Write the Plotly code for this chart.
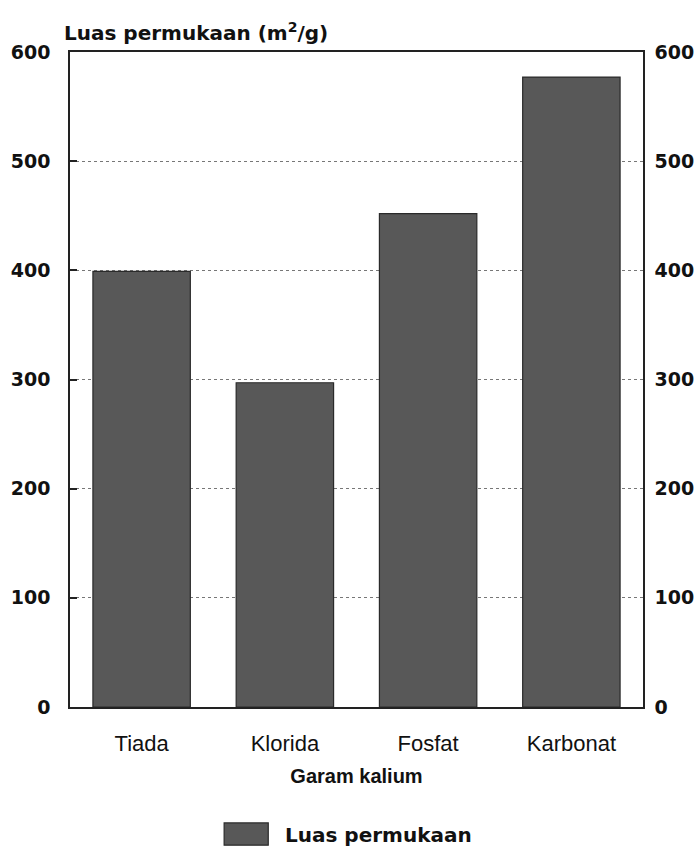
import plotly.graph_objects as go

categories = ["Tiada", "Klorida", "Fosfat", "Karbonat"]
values = [399, 297, 452, 577]
y_ticks = [0, 100, 200, 300, 400, 500, 600]
series_name = "Luas permukaan"
y_title = "Luas permukaan (m<sup>2</sup>/g)"
x_title = "Garam kalium"

BAR = "#585858"
EDGE = "#2a2a2a"
BOLD = "DejaVu Sans"
CAT = "Liberation Sans"

fig = go.Figure()
fig.add_trace(go.Bar(x=categories, y=values, name=series_name,
                     marker=dict(color=BAR, line=dict(color=EDGE, width=1.2)),
                     showlegend=False))
# invisible trace to anchor the right-hand axis
fig.add_trace(go.Scatter(x=categories, y=values, yaxis="y2", mode="markers",
                         marker=dict(opacity=0, size=1), showlegend=False, hoverinfo="skip"))

axis_line = dict(showline=True, linecolor="#222", linewidth=1.5)
fig.update_layout(
    width=698, height=851,
    margin=dict(l=70, r=55, t=52, b=144, autoexpand=False),
    plot_bgcolor="white", paper_bgcolor="white",
    bargap=0.32,
    xaxis=dict(**axis_line, mirror=True, ticks="", tickfont=dict(family=CAT, size=22, color="#111"),
               ticklabelstandoff=16, automargin=False,
               title=dict(text=x_title, font=dict(family="Liberation Sans", size=20, color="#111", weight="bold"),
                          standoff=14)),
    yaxis=dict(**axis_line, range=[0, 600], tickvals=y_ticks, ticks="inside", ticklen=7, tickwidth=2,
               tickcolor="#222", showgrid=True, gridcolor="#777", griddash="dot", gridwidth=1,
               zeroline=False, tickfont=dict(family=BOLD, size=19, color="#111", weight="bold"),
               ticklabelstandoff=14, automargin=False),
    yaxis2=dict(**axis_line, overlaying="y", side="right", range=[0, 600], tickvals=y_ticks,
                ticks="", showgrid=False, zeroline=False, automargin=False,
                tickfont=dict(family=BOLD, size=19, color="#111", weight="bold"), ticklabelstandoff=6),
)

fig.add_annotation(text="<b>" + y_title + "</b>", xref="paper", yref="paper",
                   x=-0.014, y=1.03, xanchor="left", yanchor="middle", showarrow=False,
                   font=dict(family=BOLD, size=20, color="#111"))

# legend drawn as a large swatch plus text
fig.add_shape(type="rect", xref="paper", yref="paper", x0=0.269, x1=0.346, y0=-0.211, y1=-0.177,
              fillcolor=BAR, line=dict(color=EDGE, width=1.2))
fig.add_annotation(text="<b>" + series_name + "</b>", xref="paper", yref="paper",
                   x=0.372, y=-0.196, xanchor="left", yanchor="middle", showarrow=False,
                   font=dict(family=BOLD, size=20, color="#111"))

fig.write_html("out.html", config={"displayModeBar": False},
               post_script="document.body.style.margin='0';")
